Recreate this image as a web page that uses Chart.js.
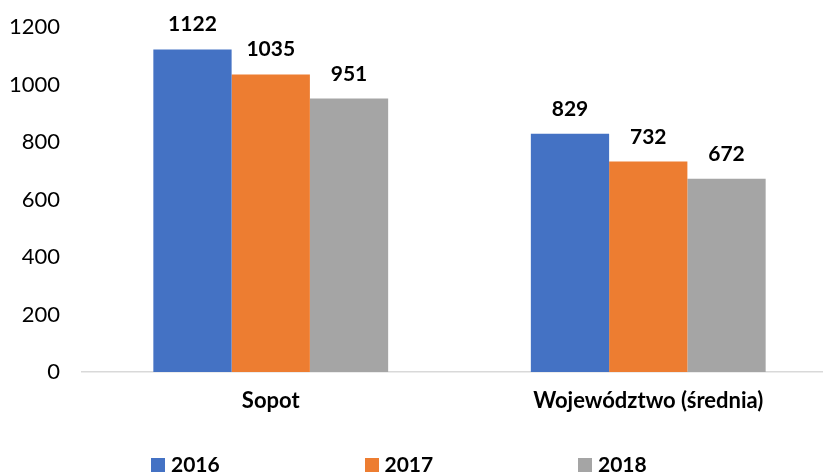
<!DOCTYPE html>
<html>
<head>
<meta charset="utf-8">
<script src="https://cdn.jsdelivr.net/npm/chart.js@4/dist/chart.umd.min.js"></script>
<style>
  html, body { margin: 0; padding: 0; background: #fff; overflow: hidden; }
  #wrap { position: relative; width: 840px; height: 472px; }
  #legend { position: absolute; left: 151px; top: 451px; font-family: Lato, "Open Sans", sans-serif; font-weight: bold; font-size: 21px; color: #000; white-space: nowrap; }
  .item { display: inline-block; width: 213.5px; }
  .box { display: inline-block; width: 14px; height: 14px; margin-right: 6px; vertical-align: 0px; }
</style>
</head>
<body>
<div id="wrap">
  <canvas id="c"></canvas>
  <div id="legend"></div>
</div>
<script>
const categories = ["Sopot", "Województwo (średnia)"];
const seriesNames = ["2016", "2017", "2018"];
const values2016 = [1122, 829];
const values2017 = [1035, 732];
const values2018 = [951, 672];
const yTicks = [0, 200, 400, 600, 800, 1000, 1200];

const colors = ["#4472C4", "#ED7D31", "#A5A5A5"];
const seriesValues = [values2016, values2017, values2018];
const FONT = "Lato, 'Open Sans', sans-serif";

const datasets = seriesNames.map((name, i) => ({
  label: name,
  data: seriesValues[i],
  backgroundColor: colors[i],
  borderWidth: 0,
  barPercentage: 1,
  categoryPercentage: 0.622
}));

const dataLabels = {
  id: "dataLabels",
  afterDatasetsDraw(chart) {
    const ctx = chart.ctx;
    ctx.save();
    ctx.font = "bold 21px " + FONT;
    ctx.fillStyle = "#000";
    ctx.textAlign = "center";
    ctx.textBaseline = "alphabetic";
    chart.data.datasets.forEach((ds, di) => {
      const meta = chart.getDatasetMeta(di);
      meta.data.forEach((bar, j) => {
        ctx.fillText(String(ds.data[j]), bar.x, bar.y - 18);
      });
    });
    ctx.restore();
  }
};

const chart = new Chart(document.getElementById("c"), {
  type: "bar",
  data: { labels: categories, datasets },
  options: {
    responsive: true,
    maintainAspectRatio: false,
    animation: false,
    layout: { padding: { top: 27, right: 3, left: 0, bottom: 0 } },
    plugins: { legend: { display: false }, tooltip: { enabled: false } },
    scales: {
      x: {
        grid: { display: false, drawTicks: false },
        border: { display: true, color: "#D9D9D9", width: 1.5 },
        ticks: { color: "#000", font: { family: FONT, size: 22, weight: "bold" }, padding: 16, maxRotation: 0 },
        afterFit(s) { s.height = 100; }
      },
      y: {
        min: 0, max: 1200,
        afterBuildTicks(s) { s.ticks = yTicks.map(v => ({ value: v })); },
        grid: { display: false, drawTicks: false },
        border: { display: false },
        ticks: { color: "#000", font: { family: FONT, size: 22 }, padding: 22, callback: v => String(v) },
        afterFit(s) { s.width = 82; s.paddingTop = 10; s.paddingBottom = 10; }
      }
    }
  },
  plugins: [dataLabels]
});

const legend = document.getElementById("legend");
seriesNames.forEach((name, i) => {
  const item = document.createElement("span");
  item.className = "item";
  const box = document.createElement("span");
  box.className = "box";
  box.style.background = colors[i];
  item.appendChild(box);
  item.appendChild(document.createTextNode(name));
  legend.appendChild(item);
});
</script>
</body>
</html>
